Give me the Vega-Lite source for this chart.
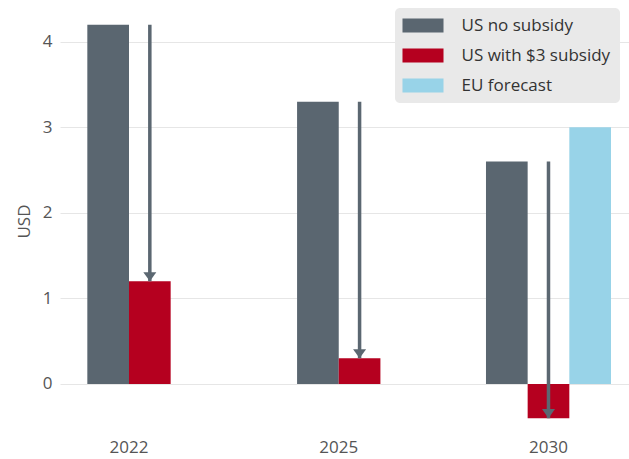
{
  "$schema": "https://vega.github.io/schema/vega-lite/v6.json",
  "width": 569,
  "height": 420,
  "autosize": "none",
  "padding": {"left": 60, "top": 11, "right": 0, "bottom": 28},
  "background": "white",
  "config": {"view": {"stroke": null}, "font": "Open Sans"},
  "data": {
    "values": [
      {"year": "2022", "series": "US no subsidy", "value": 4.2},
      {"year": "2022", "series": "US with $3 subsidy", "value": 1.2},
      {"year": "2025", "series": "US no subsidy", "value": 3.3},
      {"year": "2025", "series": "US with $3 subsidy", "value": 0.3},
      {"year": "2030", "series": "US no subsidy", "value": 2.6},
      {"year": "2030", "series": "US with $3 subsidy", "value": -0.4},
      {"year": "2030", "series": "EU forecast", "value": 3.0}
    ]
  },
  "encoding": {
    "x": {
      "field": "year",
      "type": "nominal",
      "title": null,
      "scale": {"domain": ["2022", "2025", "2030"], "paddingInner": 0.404, "paddingOuter": 0.0584, "align": 0.265},
      "axis": {"domain": false, "ticks": false, "grid": false, "labelAngle": 0, "labelPadding": 8, "labelFontSize": 17, "labelColor": "#555555"}
    }
  },
  "layer": [
    {
      "transform": [{"filter": "datum.year !== '2030'"}],
      "layer": [
        {
          "mark": {"type": "bar"},
          "encoding": {
            "xOffset": {"field": "series", "type": "nominal", "scale": {"domain": ["US no subsidy", "US with $3 subsidy"], "paddingInner": 0, "paddingOuter": 0.5}},
            "y": {
              "field": "value", "type": "quantitative", "title": "USD",
              "scale": {"domain": [-0.55, 4.36], "nice": false, "zero": false},
              "axis": {"values": [0, 1, 2, 3, 4], "format": "d", "domain": false, "ticks": false, "grid": true, "gridColor": "#e6e6e6", "gridWidth": 1, "labelPadding": 8, "labelFontSize": 17, "labelColor": "#555555", "titleFontSize": 17, "titleColor": "#555555", "titleFontWeight": "normal", "titlePadding": 9}
            },
            "color": {
              "field": "series", "type": "nominal",
              "scale": {"domain": ["US no subsidy", "US with $3 subsidy", "EU forecast"], "range": ["#5a6670", "#b5001f", "#98d3e8"]},
              "legend": {"title": null, "orient": "none", "legendX": 335, "legendY": -3, "fillColor": "#e9e9e9", "cornerRadius": 5, "padding": 9, "symbolType": "M-2.93,-1H2.93V1H-2.93Z", "symbolSize": 196, "symbolStrokeWidth": 0, "symbolOpacity": 1, "symbolOffset": 10.5, "labelOffset": 30, "labelFontSize": 17, "labelColor": "#333333", "rowPadding": 12, "labelLimit": 300}
            }
          }
        },
        {
          "transform": [
            {"filter": "datum.series !== 'EU forecast'"},
            {"joinaggregate": [{"op": "max", "field": "value", "as": "top"}], "groupby": ["year"]},
            {"filter": "datum.series === 'US with $3 subsidy'"}
          ],
          "mark": {"type": "rule", "color": "#5b6771", "strokeWidth": 3.5},
          "encoding": {
            "xOffset": {"field": "series", "type": "nominal", "scale": {"domain": ["US no subsidy", "US with $3 subsidy"], "paddingInner": 0, "paddingOuter": 0.5}},
            "y": {"field": "top", "type": "quantitative", "title": "USD"},
            "y2": {"field": "value"}
          }
        },
        {
          "transform": [{"filter": "datum.series === 'US with $3 subsidy'"}],
          "mark": {"type": "point", "shape": "M-1,-1.4L1,-1.4L0,0Z", "filled": true, "color": "#5b6771", "size": 169, "opacity": 1},
          "encoding": {
            "xOffset": {"field": "series", "type": "nominal", "scale": {"domain": ["US no subsidy", "US with $3 subsidy"], "paddingInner": 0, "paddingOuter": 0.5}},
            "y": {"field": "value", "type": "quantitative", "title": "USD"}
          }
        }
      ]
    },
    {
      "transform": [{"filter": "datum.year === '2030'"}],
      "layer": [
        {
          "mark": {"type": "bar"},
          "encoding": {
            "xOffset": {"field": "series", "type": "nominal", "scale": {"domain": ["US no subsidy", "US with $3 subsidy", "EU forecast"], "paddingInner": 0, "paddingOuter": 0}},
            "y": {"field": "value", "type": "quantitative", "title": "USD"},
            "color": {
              "field": "series", "type": "nominal",
              "scale": {"domain": ["US no subsidy", "US with $3 subsidy", "EU forecast"], "range": ["#5a6670", "#b5001f", "#98d3e8"]},
              "legend": {"title": null, "orient": "none", "legendX": 335, "legendY": -3, "fillColor": "#e9e9e9", "cornerRadius": 5, "padding": 9, "symbolType": "M-2.93,-1H2.93V1H-2.93Z", "symbolSize": 196, "symbolStrokeWidth": 0, "symbolOpacity": 1, "symbolOffset": 10.5, "labelOffset": 30, "labelFontSize": 17, "labelColor": "#333333", "rowPadding": 12, "labelLimit": 300}
            }
          }
        },
        {
          "transform": [
            {"filter": "datum.series !== 'EU forecast'"},
            {"joinaggregate": [{"op": "max", "field": "value", "as": "top"}], "groupby": ["year"]},
            {"filter": "datum.series === 'US with $3 subsidy'"}
          ],
          "mark": {"type": "rule", "color": "#5b6771", "strokeWidth": 3.5},
          "encoding": {
            "xOffset": {"field": "series", "type": "nominal", "scale": {"domain": ["US no subsidy", "US with $3 subsidy", "EU forecast"], "paddingInner": 0, "paddingOuter": 0}},
            "y": {"field": "top", "type": "quantitative", "title": "USD"},
            "y2": {"field": "value"}
          }
        },
        {
          "transform": [{"filter": "datum.series === 'US with $3 subsidy'"}],
          "mark": {"type": "point", "shape": "M-1,-1.4L1,-1.4L0,0Z", "filled": true, "color": "#5b6771", "size": 169, "opacity": 1},
          "encoding": {
            "xOffset": {"field": "series", "type": "nominal", "scale": {"domain": ["US no subsidy", "US with $3 subsidy", "EU forecast"], "paddingInner": 0, "paddingOuter": 0}},
            "y": {"field": "value", "type": "quantitative", "title": "USD"}
          }
        }
      ]
    }
  ],
  "resolve": {"scale": {"xOffset": "independent"}}
}
